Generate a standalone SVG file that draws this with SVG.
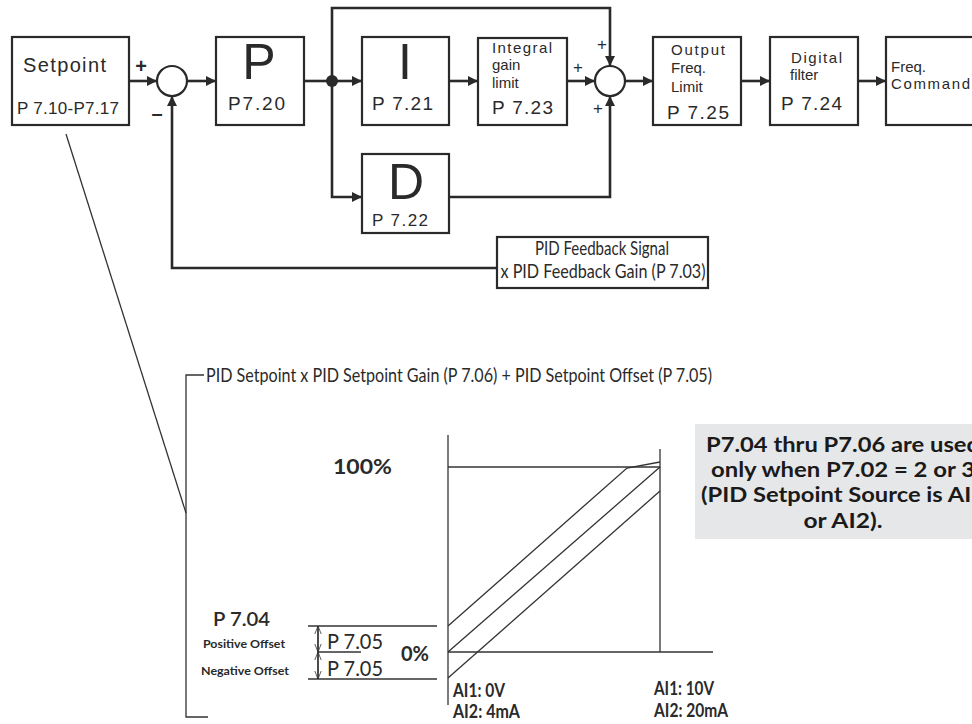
<svg xmlns="http://www.w3.org/2000/svg" width="972" height="724" viewBox="0 0 972 724">
<defs>
<marker id="ah" viewBox="0 0 10 10" refX="10" refY="5" markerWidth="4" markerHeight="4" orient="auto" markerUnits="strokeWidth">
<path d="M0,0 L10,5 L0,10 z" fill="#2a2a2a"/>
</marker>
<marker id="dim" viewBox="0 0 10 10" refX="10" refY="5" markerWidth="8" markerHeight="8" orient="auto" markerUnits="userSpaceOnUse">
<path d="M0,1 L10,5 L0,9" fill="none" stroke="#333" stroke-width="1"/>
</marker>
<style>
.box{fill:#fff;stroke:#2a2a2a;stroke-width:2.2}
.sum{fill:#fff;stroke:#2a2a2a;stroke-width:2.2}
.wire{fill:none;stroke:#2a2a2a;stroke-width:2.6}
.arr{marker-end:url(#ah)}
.t{font-family:"Liberation Sans",Arial,sans-serif;fill:#2a2a2a}
.big{font-family:"Liberation Sans",Arial,sans-serif;font-size:50px;fill:#2a2a2a;text-anchor:middle}
.lt{font-family:Lato,"Open Sans",sans-serif;fill:#2a2a2a}
.ltb{font-family:Lato,"Open Sans",sans-serif;fill:#2a2a2a;font-weight:bold}
.thin{fill:none;stroke:#333;stroke-width:1.3}
.note{font-family:Lato,"Open Sans",sans-serif;font-weight:bold;font-size:20px;fill:#1a1a1a;text-anchor:middle}
.pm{font-family:"Liberation Sans",Arial,sans-serif;fill:#2a2a2a}
</style>
</defs>
<rect width="972" height="724" fill="#fff"/>

<g id="connectors">
<line class="wire arr" x1="129" y1="81" x2="157" y2="81"/>
<line class="wire arr" x1="187" y1="81" x2="216" y2="81"/>
<line class="wire" x1="304" y1="81" x2="332" y2="81"/>
<line class="wire arr" x1="332" y1="81" x2="362" y2="81"/>
<line class="wire arr" x1="449" y1="81" x2="478" y2="81"/>
<line class="wire arr" x1="567" y1="81" x2="595" y2="81"/>
<polyline class="wire arr" points="332,81 332,8 610,8 610,66"/>
<polyline class="wire arr" points="332,81 332,197 362,197"/>
<polyline class="wire arr" points="449,197 610,197 610,96"/>
<line class="wire arr" x1="625" y1="81" x2="653" y2="81"/>
<line class="wire arr" x1="741" y1="81" x2="770" y2="81"/>
<line class="wire arr" x1="858" y1="81" x2="886" y2="81"/>
<polyline class="wire arr" points="497,268 172,268 172,96"/>
<circle cx="332" cy="81" r="6" fill="#2a2a2a"/>
<line class="thin" x1="66" y1="134" x2="186" y2="513"/>
</g>

<g id="setpoint">
<rect class="box" x="12" y="37" width="117" height="88"/>
<text class="t" x="23" y="72" font-size="20" textLength="83">Setpoint</text>
<text class="t" x="17" y="114" font-size="17" textLength="102">P 7.10-P7.17</text>
</g>
<g id="sum1">
<circle class="sum" cx="172" cy="81" r="15"/>
<text class="pm" x="141" y="73" font-size="20" font-weight="bold" text-anchor="middle">+</text>
<text class="pm" x="157" y="120" font-size="20" font-weight="bold" text-anchor="middle">–</text>
</g>
<g id="p">
<rect class="box" x="216" y="37" width="88" height="88"/>
<text class="big" x="259" y="79">P</text>
<text class="t" x="228" y="110" font-size="19" textLength="57">P7.20</text>
</g>
<g id="i">
<rect class="box" x="362" y="37" width="87" height="88"/>
<text class="big" x="405" y="79">I</text>
<text class="t" x="372" y="110" font-size="19" textLength="61">P 7.21</text>
</g>
<g id="igl">
<rect class="box" x="478" y="38" width="89" height="87"/>
<text class="t" x="492" y="53" font-size="15" textLength="60">Integral</text>
<text class="t" x="492" y="70" font-size="15">gain</text>
<text class="t" x="492" y="88" font-size="15">limit</text>
<text class="t" x="492" y="114" font-size="19" textLength="61">P 7.23</text>
</g>
<g id="d">
<rect class="box" x="362" y="154" width="87" height="79"/>
<text class="big" x="406" y="199">D</text>
<text class="t" x="372" y="226" font-size="17" textLength="56">P 7.22</text>
</g>
<g id="sum2">
<circle class="sum" cx="610" cy="81" r="15"/>
<text class="pm" x="578" y="73" font-size="17" text-anchor="middle">+</text>
<text class="pm" x="602" y="50" font-size="17" text-anchor="middle">+</text>
<text class="pm" x="598" y="114" font-size="17" text-anchor="middle">+</text>
</g>
<g id="ofl">
<rect class="box" x="653" y="37" width="88" height="88"/>
<text class="t" x="671" y="55" font-size="15" textLength="54">Output</text>
<text class="t" x="671" y="73" font-size="15">Freq.</text>
<text class="t" x="671" y="92" font-size="15">Limit</text>
<text class="t" x="667" y="119" font-size="19" textLength="62">P 7.25</text>
</g>
<g id="df">
<rect class="box" x="770" y="37" width="88" height="88"/>
<text class="t" x="791" y="63" font-size="15" textLength="51">Digital</text>
<text class="t" x="790" y="80" font-size="15">filter</text>
<text class="t" x="781" y="110" font-size="19" textLength="61">P 7.24</text>
</g>
<g id="fc">
<rect class="box" x="886" y="37" width="100" height="88"/>
<text class="t" x="891" y="72" font-size="15">Freq.</text>
<text class="t" x="891" y="89" font-size="15" textLength="79">Command</text>
</g>
<g id="feedback">
<rect class="box" x="497" y="237" width="211" height="51"/>
<text class="lt" x="602" y="255" font-size="20" text-anchor="middle" textLength="134" lengthAdjust="spacingAndGlyphs">PID Feedback Signal</text>
<text class="lt" x="603" y="278" font-size="20" text-anchor="middle" textLength="205" lengthAdjust="spacingAndGlyphs">x PID Feedback Gain (P 7.03)</text>
</g>

<g id="chart">
<polyline class="thin" points="204,375 186,375 186,717 208,717"/>
<text class="lt" x="206" y="382" font-size="20" fill="#25284a" textLength="506" lengthAdjust="spacingAndGlyphs">PID Setpoint x PID Setpoint Gain (P 7.06) + PID Setpoint Offset (P 7.05)</text>
<line class="thin" x1="448" y1="435" x2="448" y2="705"/>
<line class="thin" x1="660" y1="449" x2="660" y2="652"/>
<line class="thin" x1="448" y1="467" x2="660" y2="467"/>
<line class="thin" x1="448" y1="652" x2="713" y2="652"/>
<line class="thin" x1="448" y1="652" x2="660" y2="467"/>
<polyline class="thin" points="448,626 627,468 660,462"/>
<line class="thin" x1="448" y1="678" x2="660" y2="491"/>
<line class="thin" x1="308" y1="626" x2="437" y2="626"/>
<line class="thin" x1="308" y1="679" x2="437" y2="679"/>
<line class="thin" x1="318" y1="652" x2="361" y2="652"/>
<line class="thin" x1="318" y1="652" x2="318" y2="626" marker-end="url(#dim)"/>
<line class="thin" x1="318" y1="652" x2="318" y2="679" marker-end="url(#dim)"/>
<line class="thin" x1="318" y1="626" x2="318" y2="652" marker-end="url(#dim)"/>
<line class="thin" x1="318" y1="679" x2="318" y2="652" marker-end="url(#dim)"/>
<text class="ltb" x="333" y="474" font-size="20" textLength="59" lengthAdjust="spacingAndGlyphs">100%</text>
<text class="ltb" x="401" y="661" font-size="21" textLength="28" lengthAdjust="spacingAndGlyphs">0%</text>
<text class="lt" x="213" y="626" font-size="20" font-weight="600" textLength="57" lengthAdjust="spacingAndGlyphs">P 7.04</text>
<text class="ltb" x="203" y="648" font-size="12" textLength="82" lengthAdjust="spacingAndGlyphs">Positive Offset</text>
<text class="ltb" x="201" y="675" font-size="12" textLength="88" lengthAdjust="spacingAndGlyphs">Negative Offset</text>
<text class="lt" x="327" y="649" font-size="22" textLength="56" lengthAdjust="spacingAndGlyphs">P 7.05</text>
<text class="lt" x="327" y="676" font-size="22" textLength="56" lengthAdjust="spacingAndGlyphs">P 7.05</text>
<text class="ltb" x="453" y="697" font-size="18" textLength="52" lengthAdjust="spacingAndGlyphs">AI1: 0V</text>
<text class="ltb" x="453" y="718" font-size="18" textLength="67" lengthAdjust="spacingAndGlyphs">AI2: 4mA</text>
<text class="ltb" x="654" y="695" font-size="18" textLength="60" lengthAdjust="spacingAndGlyphs">AI1: 10V</text>
<text class="ltb" x="654" y="717" font-size="18" textLength="74" lengthAdjust="spacingAndGlyphs">AI2: 20mA</text>
</g>

<g id="note">
<rect x="695" y="424" width="290" height="115" fill="#e6e7e8"/>
<text class="note" x="843" y="452" textLength="274" lengthAdjust="spacingAndGlyphs">P7.04 thru P7.06 are used</text>
<text class="note" x="843" y="477" textLength="264" lengthAdjust="spacingAndGlyphs">only when P7.02 = 2 or 3</text>
<text class="note" x="843" y="502" textLength="284" lengthAdjust="spacingAndGlyphs">(PID Setpoint Source is AI1</text>
<text class="note" x="843" y="528" textLength="79" lengthAdjust="spacingAndGlyphs">or AI2).</text>
</g>
</svg>
